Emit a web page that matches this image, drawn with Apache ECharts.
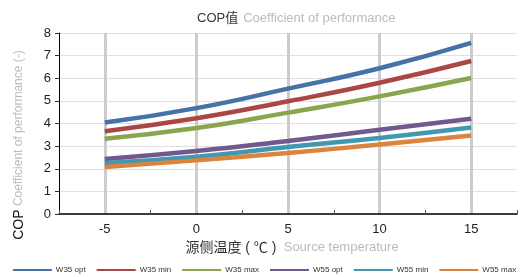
<!DOCTYPE html>
<html>

<head>
  <meta charset="utf-8">
  <title>COP Chart</title>
  <script src="https://cdn.jsdelivr.net/npm/echarts@6/dist/echarts.min.js"></script>
  <style>
    html, body { margin: 0; padding: 0; background: #fff; }
  </style>
</head>

<body>
  <div id="chart" style="width: 529px; height: 277px;"></div>

  <script>
    // 源侧温度 categories
    var xCats = ['-5', '0', '5', '10', '15'];
    var seriesNames = ['W35 opt', 'W35 min', 'W35 max', 'W55 opt', 'W55 min', 'W55 max'];
    var colors = ['#4572A7', '#AA4643', '#89A54E', '#71588F', '#4198AF', '#DB843D'];

    var w35opt = [4.04, 4.68, 5.54, 6.44, 7.56];
    var w35min = [3.66, 4.23, 4.98, 5.80, 6.76];
    var w35max = [3.33, 3.80, 4.48, 5.20, 6.01];
    var w55opt = [2.43, 2.78, 3.23, 3.72, 4.21];
    var w55min = [2.25, 2.53, 2.96, 3.36, 3.82];
    var w55max = [2.08, 2.37, 2.70, 3.07, 3.47];
    var allData = [w35opt, w35min, w35max, w55opt, w55min, w55max];

    var font = "'Liberation Sans', 'Noto Sans CJK SC', sans-serif";

    var chart = echarts.init(document.getElementById('chart'));

    var series = [];
    for (var i = 0; i < seriesNames.length; i++) {
      series.push({
        name: seriesNames[i],
        type: 'line',
        xAxisIndex: 0,
        smooth: true,
        showSymbol: false,
        symbol: 'none',
        lineStyle: { width: 4.5, color: colors[i] },
        itemStyle: { color: colors[i] },
        data: allData[i]
      });
    }

    var option = {
      animation: false,
      textStyle: { fontFamily: font },
      title: {
        left: 192,
        top: 4,
        text: '{a|COP值} {b|Coefficient of performance}',
        textStyle: {
          fontWeight: 'normal',
          rich: {
            a: { fontSize: 13, color: '#333', fontWeight: 'normal', fontFamily: font },
            b: { fontSize: 13, color: '#bbb', fontWeight: 'normal', fontFamily: font }
          }
        }
      },
      legend: {
        bottom: 3,
        left: 'center',
        width: 529,
        padding: 0,
        itemWidth: 39,
        itemHeight: 2,
        itemGap: 11,
        icon: 'rect',
        textStyle: { fontSize: 8, color: '#333', padding: [0, 0, 0, -1] },
        data: seriesNames
      },
      grid: {
        left: 59,
        right: 12,
        top: 33,
        bottom: 63
      },
      xAxis: [
        {
          type: 'category',
          data: xCats,
          boundaryGap: true,
          name: '{a|源侧温度 ( ℃ )} {b|Source temperature}',
          nameLocation: 'middle',
          nameGap: 21,
          nameTextStyle: {
            padding: [0, 0, 0, 8],
            rich: {
              a: { fontSize: 14, color: '#333', fontFamily: font },
              b: { fontSize: 13, color: '#bbb', fontFamily: font, padding: [0, 0, 0, 4] }
            }
          },
          axisLine: { lineStyle: { color: '#000', width: 1.5 } },
          axisTick: { show: true, inside: true, length: 4, lineStyle: { color: '#555' } },
          axisLabel: { fontSize: 13, color: '#222', margin: 9 },
          splitLine: { show: false }
        },
        {
          // only for the vertical grid lines at the category centres
          type: 'value',
          position: 'bottom',
          min: -7.5,
          max: 17.5,
          interval: 5,
          axisLine: { show: false },
          axisTick: { show: false },
          axisLabel: { show: false },
          splitLine: { show: false },
          minorTick: { show: false, splitNumber: 2 },
          minorSplitLine: {
            show: true,
            lineStyle: { color: '#ccc', width: 3 }
          }
        }
      ],
      yAxis: {
        type: 'value',
        min: 0,
        max: 8,
        interval: 1,
        name: '{a|COP} {b|Coefficient of performance (-)}',
        nameLocation: 'middle',
        nameGap: 33,
        nameRotate: 90,
        nameTextStyle: {
          padding: [0, 43, 0, 0],
          rich: {
            a: { fontSize: 14, color: '#111', fontFamily: font },
            b: { fontSize: 12, color: '#bbb', fontFamily: font }
          }
        },
        axisLine: { show: true, onZero: false, lineStyle: { color: '#000', width: 1 } },
        axisTick: { show: true, length: 4, lineStyle: { color: '#333' } },
        axisLabel: { fontSize: 13, color: '#222', margin: 8 },
        splitLine: { lineStyle: { color: '#e0e0e0', width: 1 } }
      },
      series: series
    };

    chart.setOption(option);
  </script>
</body>

</html>
